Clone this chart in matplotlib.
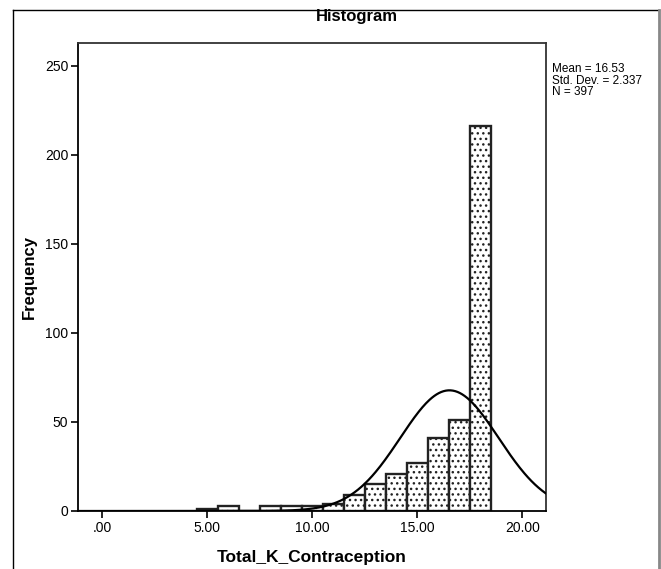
import matplotlib as mpl
mpl.use('Agg')
import matplotlib.pyplot as plt
import numpy as np
from matplotlib.lines import Line2D

plt.rcParams['font.family'] = ['Liberation Sans', 'DejaVu Sans']
plt.rcParams['hatch.color'] = '#707070'
plt.rcParams['hatch.linewidth'] = 1.0

# bin centres (width 1) and counts
bin_centers = [5, 6, 7, 8, 9, 10, 11, 12, 13, 14, 15, 16, 17, 18]
counts = [1, 3, 0, 3, 3, 3, 4, 9, 15, 21, 27, 41, 51, 216]
mean, sd, n = 16.53, 2.337, 397
x_ticks = [0, 5, 10, 15, 20]
x_ticklabels = ['.00', '5.00', '10.00', '15.00', '20.00']
y_ticks = [0, 50, 100, 150, 200, 250]

fig = plt.figure(figsize=(6.61, 5.69), dpi=100)
ax = fig.add_axes([78/661, 1 - 511/569, (545.5 - 78)/661, (511 - 42.7)/569])

ax.bar(bin_centers, counts, width=1.0, color='white', edgecolor='#222222',
       linewidth=1.7, hatch='...', zorder=2)

xmin, xmax = -1.14, 21.1
xs = np.linspace(xmin, xmax, 400)
ys = n * 1.0 / (sd * np.sqrt(2 * np.pi)) * np.exp(-0.5 * ((xs - mean) / sd) ** 2)
ax.plot(xs, ys, color='black', linewidth=1.6, zorder=3)

ax.set_xlim(xmin, xmax)
ax.set_ylim(0, 263)
ax.set_xticks(x_ticks)
ax.set_xticklabels(x_ticklabels)
ax.set_yticks(y_ticks)
ax.tick_params(direction='out', length=5, width=1.2, labelsize=10, pad=2)
for s in ax.spines.values():
    s.set_linewidth(1.3)
    s.set_color('#333333')
ax.spines['left'].set_color('black')
ax.spines['bottom'].set_color('black')

ax.set_xlabel('Total_K_Contraception', fontsize=12.5, fontweight='bold', labelpad=11)
ax.set_ylabel('Frequency', fontsize=12, fontweight='bold', labelpad=6)
fig.text(357/661, 1 - 16/569, 'Histogram', ha='center', va='center',
         fontsize=12, fontweight='bold')

fig.text(552/661, 1 - 63/569, 'Mean = 16.53\nStd. Dev. = 2.337\nN = 397',
         ha='left', va='top', fontsize=8.5, linespacing=0.95)

# outer chart frame
fig.add_artist(Line2D([13/661, 13/661], [0, 1 - 10/569], transform=fig.transFigure,
                      color='black', linewidth=1.0))
fig.add_artist(Line2D([13/661, 659/661], [1 - 10/569, 1 - 10/569], transform=fig.transFigure,
                      color='black', linewidth=1.0))
fig.add_artist(Line2D([659/661, 659/661], [0, 1 - 10/569], transform=fig.transFigure,
                      color='#888888', linewidth=2.0))

fig.savefig('out.png', dpi=100)
